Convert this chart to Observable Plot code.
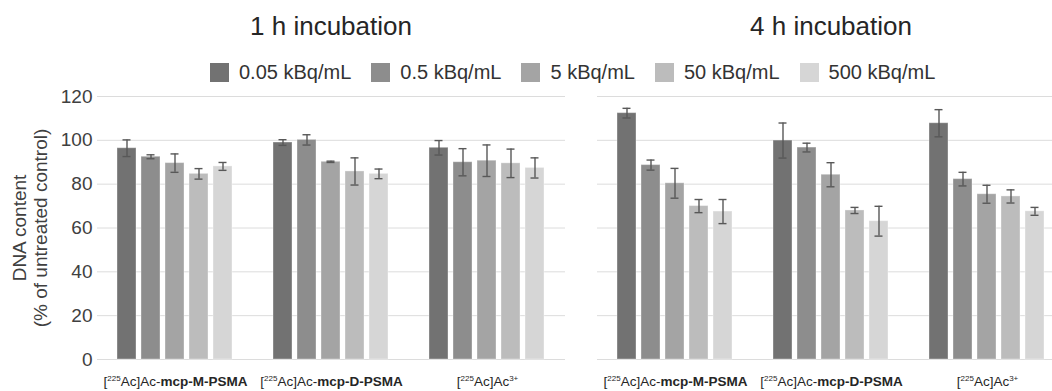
<!DOCTYPE html>
<html>
<head>
<meta charset="utf-8">
<script src="https://cdn.jsdelivr.net/npm/d3@7"></script>
<script src="https://cdn.jsdelivr.net/npm/@observablehq/plot@0.6"></script>
<style>
  html, body { margin: 0; padding: 0; background: #fff; overflow: hidden; }
  #root { position: relative; width: 1052px; height: 391px; overflow: hidden;
          font-family: "Liberation Sans", Arial, sans-serif; }
  .title { position: absolute; top: 13px; width: 468px; text-align: center;
           font-size: 26px; line-height: 26px; color: #262626; }
  .panel { position: absolute; top: 86px; }
  .panel svg { max-width: none !important; }
  #legend { position: absolute; left: 210px; top: 56px; }
</style>
</head>
<body>
<div id="root">
  <div class="title" style="left:97px">1 h incubation</div>
  <div class="title" style="left:597px">4 h incubation</div>
  <div id="legend"></div>
  <div class="panel" id="p1" style="left:0px; width:565px"></div>
  <div class="panel" id="p2" style="left:597px; width:468px"></div>
</div>
<script>
// ---- data ----
const doses = ["0.05 kBq/mL", "0.5 kBq/mL", "5 kBq/mL", "50 kBq/mL", "500 kBq/mL"];
const compounds = ["[225Ac]Ac-mcp-M-PSMA", "[225Ac]Ac-mcp-D-PSMA", "[225Ac]Ac3+"];
const yTicks = [0, 20, 40, 60, 80, 100, 120];
const yLabel = "DNA content\n(% of untreated control)";

// 1 h incubation: mean and SD, rows = compounds, cols = doses
const mean1h = [
  [96.4, 92.5, 89.6, 84.7, 88.1],
  [99.0, 100.2, 90.2, 85.8, 84.7],
  [96.6, 90.0, 90.7, 89.5, 87.4]
];
const sd1h = [
  [3.8, 0.9, 4.2, 2.4, 1.8],
  [1.3, 2.35, 0.3, 6.2, 2.2],
  [3.3, 6.2, 7.2, 6.5, 4.6]
];
// 4 h incubation
const mean4h = [
  [112.4, 88.7, 80.4, 70.0, 67.5],
  [99.9, 96.7, 84.3, 68.0, 63.1],
  [107.8, 82.3, 75.4, 74.4, 67.6]
];
const sd4h = [
  [2.2, 2.3, 6.8, 3.0, 5.5],
  [8.0, 2.0, 5.5, 1.4, 6.8],
  [6.2, 3.1, 4.1, 3.0, 1.8]
];

const colors = ["#727272", "#8d8d8d", "#a4a4a4", "#bcbcbc", "#d6d6d6"];

function rows(means, sds) {
  return compounds.flatMap((c, i) => doses.map((d, j) => ({
    compound: c, dose: d, mean: means[i][j], sd: sds[i][j]
  })));
}

function panel(data, withAxis) {
  const marks = [
    Plot.ruleY(yTicks, {stroke: "#dcdcdc", strokeWidth: 1}),
    Plot.barY(data, {fx: "compound", x: "dose", y: "mean", fill: "dose",
                     stroke: "#ffffff", strokeOpacity: 0.35, strokeWidth: 1}),
    Plot.ruleX(data, {fx: "compound", x: "dose", y1: d => d.mean - d.sd, y2: d => d.mean + d.sd,
                      stroke: "#585858", strokeWidth: 1.4}),
    Plot.tickY(data, {fx: "compound", x: "dose", y: d => d.mean + d.sd,
                      stroke: "#585858", strokeWidth: 1.4, insetLeft: 5.5, insetRight: 5.5}),
    Plot.tickY(data, {fx: "compound", x: "dose", y: d => d.mean - d.sd,
                      stroke: "#585858", strokeWidth: 1.4, insetLeft: 5.5, insetRight: 5.5})
  ];
  if (withAxis) {
    marks.push(Plot.text([{compound: compounds[0], t: yLabel}], {
      fx: "compound", text: "t", frameAnchor: "left", textAnchor: "middle",
      rotate: -90, dx: -68, lineHeight: 1.15, fontSize: 19, fill: "#404040"
    }));
  }
  return Plot.plot({
    width: (withAxis ? 97 : 0) + 468,
    height: 305,
    marginLeft: withAxis ? 97 : 0,
    marginRight: 0,
    marginTop: 10,
    marginBottom: 32,
    fx: {domain: compounds, paddingInner: 0, paddingOuter: 0, axis: "bottom",
         tickSize: 0, tickPadding: 17, label: null},
    x: {domain: doses, paddingInner: 0.2, paddingOuter: 0.85, axis: null},
    y: {domain: [0, 120], ticks: yTicks, tickSize: 0, tickPadding: 5, label: null,
        axis: withAxis ? "left" : null},
    color: {domain: doses, range: colors},
    style: {fontFamily: "'Liberation Sans', Arial, sans-serif", fontSize: "19px",
            color: "#404040", background: "transparent", overflow: "visible"},
    marks
  });
}

function richLabels(svg) {
  d3.select(svg).selectAll("text").each(function() {
    const t = this.textContent;
    if (!compounds.includes(t)) return;
    const m = t.match(/^\[(\d+)(Ac\]Ac)(.*)$/);
    if (!m) return;
    const sel = d3.select(this);
    sel.text(null).style("font-size", "13.5px").attr("fill", "#262626");
    sel.append("tspan").text("[");
    sel.append("tspan").attr("font-size", "8px").attr("dy", "-5").text(m[1]);
    sel.append("tspan").attr("dy", "5").text(m[2]);
    const rest = m[3];
    if (rest.startsWith("-")) {
      sel.append("tspan").text("-");
      sel.append("tspan").attr("font-weight", "bold").text(rest.slice(1));
    } else if (rest) {
      sel.append("tspan").attr("font-size", "8px").attr("dy", "-5").text(rest);
    }
  });
}

const s1 = panel(rows(mean1h, sd1h), true);
const s2 = panel(rows(mean4h, sd4h), false);
richLabels(s1);
richLabels(s2);
s1.style.maxWidth = "none";
s2.style.maxWidth = "none";
document.getElementById("p1").appendChild(s1);
document.getElementById("p2").appendChild(s2);

const leg = Plot.legend({
  color: {type: "ordinal", domain: doses, range: colors},
  legend: "swatches", swatchSize: 19
});
leg.style.fontSize = "20px";
leg.style.fontFamily = "'Liberation Sans', Arial, sans-serif";
leg.style.color = "#333";
leg.style.marginBottom = "0";
document.getElementById("legend").appendChild(leg);
</script>
</body>
</html>
